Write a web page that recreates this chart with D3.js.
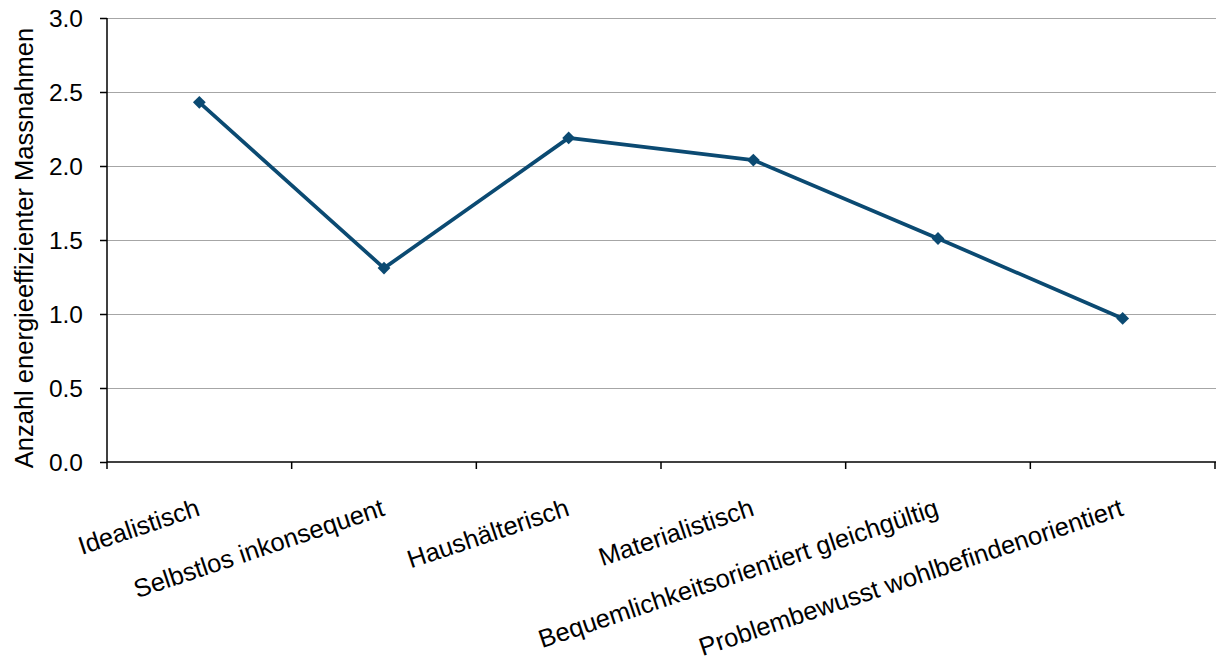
<!DOCTYPE html>
<html>
<head>
<meta charset="utf-8">
<script src="https://cdn.jsdelivr.net/npm/d3@7"></script>
<style>
  html, body { margin: 0; padding: 0; background: #fff; }
  svg text { font-family: "Liberation Sans", Arial, sans-serif; fill: #000; }
</style>
</head>
<body>
<svg id="chart" width="1216" height="662"></svg>
<script>
// Lebensstil-Typen und durchschnittliche Anzahl energieeffizienter Massnahmen
const categories = [
  "Idealistisch",
  "Selbstlos inkonsequent",
  "Haushälterisch",
  "Materialistisch",
  "Bequemlichkeitsorientiert gleichgültig",
  "Problembewusst wohlbefindenorientiert"
];
const values = [2.43, 1.31, 2.19, 2.04, 1.51, 0.97];
const yTicks = [0, 0.5, 1.0, 1.5, 2.0, 2.5, 3.0];
const yTitle = "Anzahl energieeffizienter Massnahmen";

const svg = d3.select("#chart");
const plotLeft = 107, plotRight = 1215, plotTop = 18, plotBottom = 462;

const x = d3.scaleBand().domain(categories).range([plotLeft, plotRight]).padding(0);
const y = d3.scaleLinear().domain([0, 3]).range([plotBottom, plotTop]);

// horizontal gridlines
svg.append("g")
  .selectAll("line")
  .data(yTicks.filter(d => d > 0))
  .join("line")
  .attr("x1", plotLeft).attr("x2", plotRight + 1)
  .attr("y1", d => Math.round(y(d)) + 0.5).attr("y2", d => Math.round(y(d)) + 0.5)
  .attr("stroke", "#a6a6a6").attr("stroke-width", 1.2);

// y axis
const yAxis = svg.append("g")
  .attr("transform", `translate(${plotLeft},0)`)
  .call(d3.axisLeft(y).tickValues(yTicks).tickFormat(d3.format(".1f")).tickSize(7).tickPadding(17));
yAxis.select(".domain").attr("stroke", "#000").attr("stroke-width", 1.5).attr("d", `M0,${plotTop}V${plotBottom}`);
yAxis.selectAll(".tick line").attr("stroke", "#000").attr("stroke-width", 1.5);
yAxis.selectAll(".tick text").attr("font-size", 24.5).attr("dy", "0.36em")
  .style("font-family", "'Liberation Sans', Arial, sans-serif").attr("fill", "#000");

// x axis with ticks at band boundaries
const xAxis = svg.append("g").attr("transform", `translate(0,${plotBottom})`);
xAxis.append("line")
  .attr("x1", plotLeft).attr("x2", plotRight + 1).attr("y1", 0).attr("y2", 0)
  .attr("stroke", "#000").attr("stroke-width", 1.5);
const bounds = categories.map(c => x(c)).concat([plotRight]);
xAxis.selectAll("line.tk")
  .data(bounds)
  .join("line").attr("class", "tk")
  .attr("x1", d => d).attr("x2", d => d)
  .attr("y1", 0).attr("y2", 7)
  .attr("stroke", "#000").attr("stroke-width", 1.5);

// rotated category labels, ending under each category centre
xAxis.selectAll("text.cat")
  .data(categories)
  .join("text").attr("class", "cat")
  .attr("text-anchor", "end")
  .attr("font-size", 25.5)
  .attr("transform", d => `translate(${x(d) + x.bandwidth() / 2 + 2},53) rotate(-18.5)`)
  .text(d => d);

// y axis title
svg.append("text")
  .attr("transform", `translate(33,${(plotTop + plotBottom) / 2 + 8}) rotate(-90)`)
  .attr("text-anchor", "middle")
  .attr("font-size", 25.5)
  .text(yTitle);

// series line
const cx = d => x(d) + x.bandwidth() / 2;
const line = d3.line().x((d, i) => cx(categories[i])).y(d => y(d));
svg.append("path")
  .datum(values)
  .attr("d", line)
  .attr("fill", "none")
  .attr("stroke", "#0b4a72")
  .attr("stroke-width", 3.7)
  .attr("stroke-linejoin", "round");

// diamond markers
const diamond = d3.symbol().type(d3.symbolSquare).size(82);
svg.append("g")
  .selectAll("path")
  .data(values)
  .join("path")
  .attr("d", diamond)
  .attr("transform", (d, i) => `translate(${cx(categories[i])},${y(d)}) rotate(45)`)
  .attr("fill", "#0b4a72");
</script>
</body>
</html>
